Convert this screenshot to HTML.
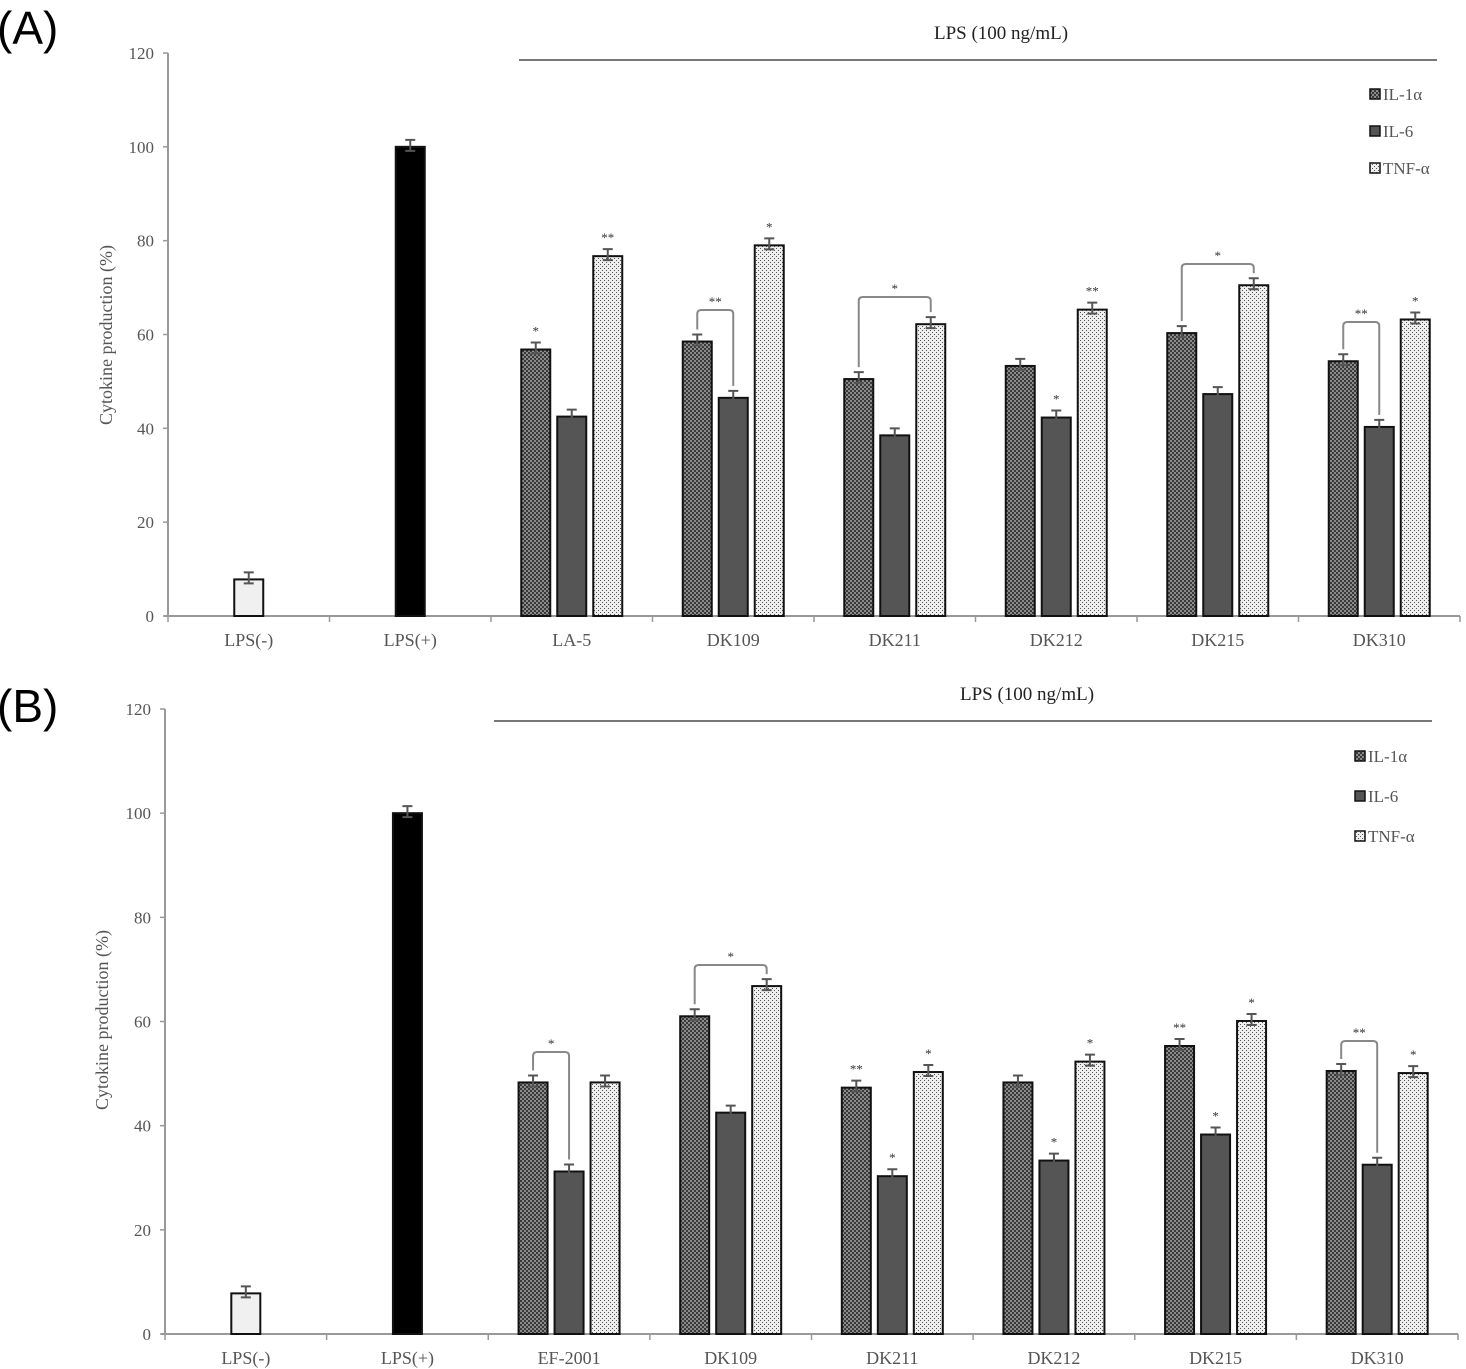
<!DOCTYPE html>
<html><head><meta charset="utf-8">
<style>
html,body{margin:0;padding:0;background:#fff;}
svg{display:block;}
text{font-family:"Liberation Serif",serif;fill:#555;}
</style></head>
<body>
<svg id="s" width="1466" height="1369" viewBox="0 0 1466 1369" xmlns="http://www.w3.org/2000/svg">
<defs>
<pattern id="chk" width="4" height="4" patternUnits="userSpaceOnUse">
<rect width="4" height="4" fill="#8a8a8a"/>
<rect width="2" height="2" fill="#3a3a3a"/><rect x="2" y="2" width="2" height="2" fill="#3a3a3a"/>
</pattern>
<pattern id="dot" width="4" height="4" patternUnits="userSpaceOnUse">
<rect width="4" height="4" fill="#eeeeee"/>
<rect width="1" height="1" fill="#555"/><rect x="2" y="2" width="1" height="1" fill="#555"/>
</pattern>
</defs>
<text x="-3" y="44" style="font-family:'Liberation Sans',sans-serif;font-size:46px;fill:#000">(A)</text>
<text x="-3" y="722" style="font-family:'Liberation Sans',sans-serif;font-size:46px;fill:#000">(B)</text>
<g id="g"></g>
</svg>
<script>
var g=document.getElementById('g'),h='';
function chart(o){
 var ax=o.ax,y0=o.y0,y120=o.y120,xe=o.xe,k=(y0-y120)/120,w=(xe-ax)/8;
 function Y(v){return y0-v*k;}
 h+='<line x1="'+ax+'" y1="'+y120+'" x2="'+ax+'" y2="'+y0+'" stroke="#999" stroke-width="2"/>';
 h+='<line x1="'+(ax-4)+'" y1="'+y0+'" x2="'+xe+'" y2="'+y0+'" stroke="#999" stroke-width="2"/>';
 for(var i=0;i<=6;i++){var yy=Y(i*20);h+='<line x1="'+(ax-5)+'" y1="'+yy+'" x2="'+ax+'" y2="'+yy+'" stroke="#999" stroke-width="1.5"/>';
  h+='<text x="'+(ax-14)+'" y="'+(yy+6)+'" font-size="17" text-anchor="end">'+(i*20)+'</text>';}
 for(i=0;i<=8;i++){var xx=ax+i*w;h+='<line x1="'+xx+'" y1="'+y0+'" x2="'+xx+'" y2="'+(y0+6)+'" stroke="#999" stroke-width="1.5"/>';}
 h+='<text x="'+o.yl[0]+'" y="'+o.yl[1]+'" font-size="18" text-anchor="middle" transform="rotate(-90 '+o.yl[0]+' '+o.yl[1]+')">Cytokine production (%)</text>';
 h+='<line x1="'+o.lp[0]+'" y1="'+o.lp[2]+'" x2="'+o.lp[1]+'" y2="'+o.lp[2]+'" stroke="#777" stroke-width="2"/>';
 h+='<text x="'+o.lp[3]+'" y="'+(o.lp[2]-21)+'" font-size="19" text-anchor="middle" style="fill:#222">LPS (100 ng/mL)</text>';
 var leg=[['chk','IL-1α'],['#555','IL-6'],['dot','TNF-α']];
 for(i=0;i<3;i++){var ly=o.lg[1]+i*o.lg[2];var f=leg[i][0][0]=='#'?leg[i][0]:'url(#'+leg[i][0]+')';
  h+='<rect x="'+o.lg[0]+'" y="'+(ly-6)+'" width="10" height="10" fill="'+f+'" stroke="#111" stroke-width="1.5"/>';
  h+='<text x="'+(o.lg[0]+13)+'" y="'+(ly+5)+'" font-size="17">'+leg[i][1]+'</text>';}
 var names=o.names;
 for(i=0;i<8;i++){var c=ax+(i+0.5)*w;h+='<text x="'+c+'" y="'+(y0+30)+'" font-size="18" text-anchor="middle">'+names[i]+'</text>';}
 function bar(x,v,fill,stroke){h+='<rect x="'+(x-14.5)+'" y="'+Y(v)+'" width="29" height="'+(v*k)+'" fill="'+fill+'" stroke="'+(stroke||'#111')+'" stroke-width="2"/>';
  var t=Y(v)-7,b=Y(v)+4;h+='<path d="M'+x+' '+t+'V'+b+'M'+(x-5)+' '+t+'H'+(x+5)+'M'+(x-5)+' '+b+'H'+(x+5)+'" stroke="#555" stroke-width="2" fill="none"/>';}
 bar(ax+0.5*w,7.8,'#f0f0f0');bar(ax+1.5*w,100,'#000');
 var fills=['url(#chk)','#555','url(#dot)'];
 for(i=0;i<6;i++){var c=ax+(i+2.5)*w,d=o.d[i];
  for(var j=0;j<3;j++){var x=c+(j-1)*36;bar(x,d[j],fills[j]);
   if(d[3][j]){h+='<text x="'+x+'" y="'+(Y(d[j])-14)+'" font-size="13" text-anchor="middle" style="fill:#333">'+d[3][j]+'</text>';}}
  if(d[4]){var a=d[4][0],b=d[4][1],top=d[4][2];var xa=c+(a-1)*36,xb=c+(b-1)*36;
   var ya=Y(d[a])-12,yb=Y(d[b])-12;
   h+='<path d="M'+xa+' '+ya+'V'+(top+4)+'Q'+xa+' '+top+' '+(xa+4)+' '+top+'H'+(xb-4)+'Q'+xb+' '+top+' '+xb+' '+(top+4)+'V'+yb+'" stroke="#888" stroke-width="2" fill="none"/>';
   h+='<text x="'+((xa+xb)/2)+'" y="'+(top-4)+'" font-size="13" text-anchor="middle" style="fill:#333">'+d[4][3]+'</text>';}
 }
}
chart({ax:168,y0:616,y120:53,xe:1460,yl:[112,335],lp:[519,1437,60,1001],lg:[1370,95,37],
 names:['LPS(-)','LPS(+)','LA-5','DK109','DK211','DK212','DK215','DK310'],
 d:[[56.8,42.5,76.7,['*','','**']],[58.5,46.5,79,['','','*'],[0,1,310,'**']],[50.5,38.5,62.2,['','',''],[0,2,297,'*']],
 [53.3,42.3,65.3,['','*','**']],[60.3,47.3,70.5,['','',''],[0,2,264,'*']],[54.3,40.3,63.2,['','','*'],[0,1,322,'**']]]});
chart({ax:165,y0:1334,y120:709,xe:1458,yl:[108,1020],lp:[494,1432,721,1027],lg:[1355,757,40],
 names:['LPS(-)','LPS(+)','EF-2001','DK109','DK211','DK212','DK215','DK310'],
 d:[[48.3,31.2,48.3,['','',''],[0,1,1052,'*']],[61,42.5,66.8,['','',''],[0,2,965,'*']],[47.3,30.3,50.3,['**','*','*']],
 [48.3,33.3,52.3,['','*','*']],[55.3,38.3,60.1,['**','*','*']],[50.5,32.5,50.1,['','','*'],[0,1,1041,'**']]]});
g.innerHTML=h;
</script>
</body></html>
